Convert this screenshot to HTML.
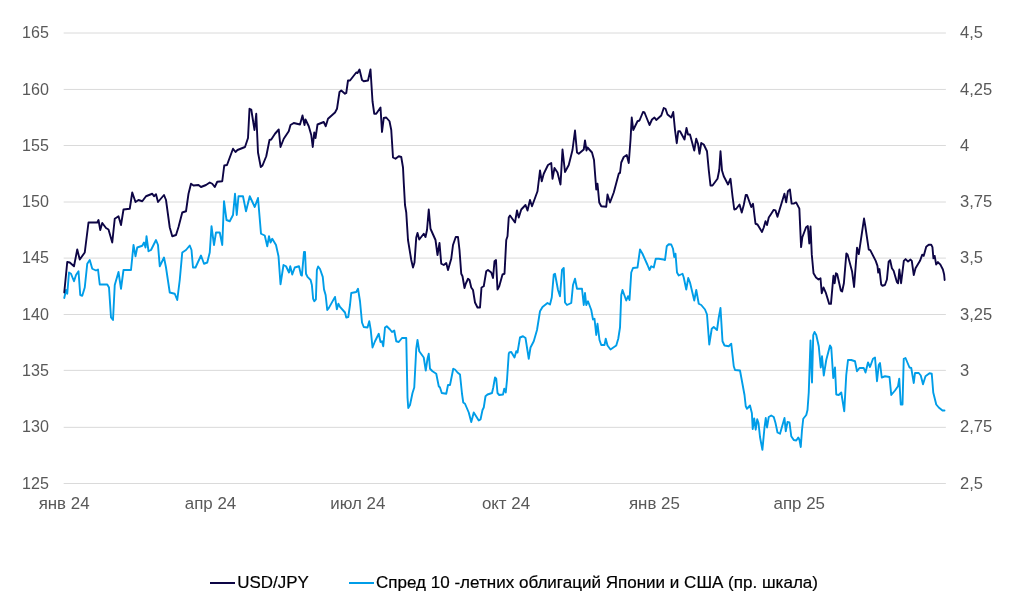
<!DOCTYPE html>
<html lang="ru"><head><meta charset="utf-8"><title>USD/JPY</title>
<style>
html,body{margin:0;padding:0;background:#fff}
body{width:1024px;height:603px;overflow:hidden}
svg{display:block}
text{font-family:"Liberation Sans",Arial,sans-serif}
.ax{font-size:16.5px;fill:#595959}
.lg{font-size:17px;fill:#000}
</style></head><body>
<svg width="1024" height="603" viewBox="0 0 1024 603">
<rect width="1024" height="603" fill="#fff"/>
<g stroke="#cccccc" stroke-width="0.72">
<line x1="63.7" x2="945.9" y1="33.00" y2="33.00"/>
<line x1="63.7" x2="945.9" y1="89.45" y2="89.45"/>
<line x1="63.7" x2="945.9" y1="145.50" y2="145.50"/>
<line x1="63.7" x2="945.9" y1="202.00" y2="202.00"/>
<line x1="63.7" x2="945.9" y1="258.10" y2="258.10"/>
<line x1="63.7" x2="945.9" y1="314.50" y2="314.50"/>
<line x1="63.7" x2="945.9" y1="370.40" y2="370.40"/>
<line x1="63.7" x2="945.9" y1="427.35" y2="427.35"/>
<line x1="63.7" x2="945.9" y1="483.50" y2="483.50"/>
</g>
<g class="ax">
<g transform="translate(48.9 0) scale(0.976 1) translate(-48.9 0)">
<text x="48.9" y="38.30" text-anchor="end">165</text>
<text x="48.9" y="94.59" text-anchor="end">160</text>
<text x="48.9" y="150.88" text-anchor="end">155</text>
<text x="48.9" y="207.16" text-anchor="end">150</text>
<text x="48.9" y="263.45" text-anchor="end">145</text>
<text x="48.9" y="319.74" text-anchor="end">140</text>
<text x="48.9" y="376.03" text-anchor="end">135</text>
<text x="48.9" y="432.31" text-anchor="end">130</text>
<text x="48.9" y="488.60" text-anchor="end">125</text>
</g>
<text x="960.0" y="38.25">4,5</text>
<text x="960.0" y="94.54">4,25</text>
<text x="960.0" y="150.82">4</text>
<text x="960.0" y="207.11">3,75</text>
<text x="960.0" y="263.40">3,5</text>
<text x="960.0" y="319.69">3,25</text>
<text x="960.0" y="375.98">3</text>
<text x="960.0" y="432.26">2,75</text>
<text x="960.0" y="488.55">2,5</text>
<text x="64.1" y="508.8" text-anchor="middle" font-size="16.9">янв 24</text>
<text x="210.5" y="508.8" text-anchor="middle" font-size="16.9">апр 24</text>
<text x="357.75" y="508.8" text-anchor="middle" font-size="16.9">июл 24</text>
<text x="506" y="508.8" text-anchor="middle" font-size="16.9">окт 24</text>
<text x="654.4" y="508.8" text-anchor="middle" font-size="16.9">янв 25</text>
<text x="799.25" y="508.8" text-anchor="middle" font-size="16.9">апр 25</text>
</g>
<path d="M64.25,298 L66,290 L67.25,293.75 L69,272.5 L71,273.75 L74,281.25 L76,275 L78.5,271.25 L80.25,295 L82.25,295.75 L84.75,287.5 L87.25,263.75 L89.75,260 L92.25,268.75 L96,270.5 L98,269.5 L99.75,284.5 L107.25,284.5 L109,287.5 L111,317.5 L113,320 L114.75,285 L118.5,272 L121,288.75 L123.5,270 L131,270 L133.5,245 L135.5,256.25 L137.25,247.5 L142.25,245.75 L144,242.5 L145.5,247.5 L146.5,236.25 L148.5,251.25 L151,250 L156,240 L158,245 L159.75,266.25 L164,257.5 L166,267.5 L169.75,292.5 L174.75,293.75 L177.25,300 L179.75,280 L182.25,252.5 L186,250 L189.75,245.5 L191.5,250 L193,267.5 L195.5,267.5 L201,255.5 L204,263.75 L207.25,262.5 L209.75,252.5 L211.5,226.25 L214,245 L216,232.5 L219.75,232.5 L222.25,245 L224,201.25 L226.5,220 L229.75,221.25 L233,215 L235,193.75 L236.75,215 L238.5,196.25 L243,196.25 L246,211.25 L249.75,196.25 L254.75,207 L258,198 L261,233.75 L264.75,235.5 L267.25,246.25 L269,236.25 L270.5,242.5 L272.25,238.75 L276,245 L278.5,256.25 L280.5,284.25 L283.5,265 L286,266.25 L289,272.5 L290.25,266.25 L292.25,274.5 L294.75,267.5 L299,266.25 L301,275 L301.88,275.62 L304,251.88 L305,251.88 L306,273.75 L307.5,276.88 L310.62,280 L311.88,285 L313.12,298.75 L314.38,301.25 L315.88,299.38 L316.88,270 L318.12,266.5 L320,269 L322.75,276.88 L324,289.38 L325.62,295 L327.25,310 L328.75,308.12 L335,296.88 L336.88,309.38 L338.38,303.75 L340,306.88 L345,312.5 L346.25,317.5 L348.25,317 L350,305 L351.25,293 L356.25,292 L358,288.75 L360,301.25 L362,322.5 L363.75,327 L367.5,327.5 L369.25,321.25 L370.75,330 L372.5,347.5 L375,341.25 L378.75,333.75 L380.5,342 L382,341.25 L383.25,346.25 L385,327.5 L386.75,326.25 L390,329.5 L392,332 L394.25,330.5 L396.25,341.25 L398.75,342 L402,338 L406.25,338 L407.5,397.5 L408.25,408 L410,405 L412.5,393 L414.25,387.5 L416.25,348.75 L417.5,340 L419.25,351.25 L423.75,357.5 L425.75,370.5 L427.5,358.75 L428.75,353.75 L430,368.75 L432.5,371.25 L436.25,373.75 L438.75,386.25 L440,387.5 L441.75,393 L446.25,393.75 L448,385 L450,385 L451.75,376.25 L453.25,368.75 L455,369.5 L457.5,372.5 L460,374.5 L462,393.75 L463.25,402.5 L465,403.75 L468.75,412.5 L471.25,422 L473.75,412.5 L478.75,420.5 L480.5,419.5 L482.5,410 L483.75,407.5 L485.5,396.25 L487.5,394.5 L492,393 L493.25,387.5 L495,377.5 L496.25,378.75 L497.5,393 L499.25,395 L503,394.5 L504.25,388.75 L505.75,392.5 L507,380 L508.75,353.75 L509.25,352.5 L511.25,352 L514.5,357.5 L516.25,351.25 L517.5,352.5 L520,337.5 L523,336.25 L525.5,338 L528.75,358.75 L530.5,347.5 L533.75,341.25 L537,330 L540,311.25 L542.5,307 L547.5,303 L550,304.5 L551.75,297.5 L553.75,274.5 L555,273.75 L558,290 L560,296.25 L562,270 L563.75,268 L565,302.5 L567,305 L571.25,303 L573,285 L575,278.75 L577,288.75 L582,288.75 L583.75,305 L585,293 L586.25,305 L588,301.25 L591.25,310 L593,319.5 L594.5,318.75 L596.25,335 L597.5,323.75 L599.5,340 L601.25,345 L604.5,345 L605.75,338.75 L607.5,345.5 L610.5,349.5 L616.25,345.5 L618.25,338.75 L620,327.5 L621.25,295 L622.5,290 L626.25,300.5 L628,296.25 L629.5,300 L631.25,272.5 L633,268 L637.5,267.5 L640,249.5 L642.5,253.75 L647.5,265 L649.5,270 L651.25,266.25 L653.75,267.5 L653.75,267.5 L655.75,258.75 L658.75,258.75 L663.75,259.5 L665,260 L666.75,246.25 L668.75,244.25 L671.25,244.5 L673,248.75 L674.25,257 L675.5,253.75 L677,272.5 L678.75,275.5 L682.5,273.75 L683.75,277.5 L686.25,289.5 L688.25,278 L690,282.5 L694.25,300.5 L696.25,290 L698.75,303.75 L701.25,305 L705,309.5 L707,314.5 L709.25,344.5 L711.75,328.75 L713.75,327 L717,330 L718.75,317.5 L720.5,308 L722.5,341.25 L724.5,345.5 L728.75,346.25 L731.25,343.75 L733.75,366.25 L735,370 L740,370.5 L744.5,395 L745.75,406.25 L747,408.75 L750,405.5 L751.9,413.3 L752.7,429 L754.2,418.5 L755.7,429.7 L757.2,419.3 L758.5,423 L760,437 L762.4,449.9 L764.5,427.5 L765.75,418 L767,427.5 L768.75,417 L771.25,415.5 L773.75,417 L775.5,423 L777.5,432.5 L780,433.75 L782.5,425 L784.5,418 L785.75,431.25 L787.5,422 L789.5,422.5 L791.25,436.25 L793.75,440 L796.25,440.5 L798.25,437.5 L799.5,440 L800.75,447 L802,430 L803.25,418.75 L806.25,415 L807.5,410 L808.75,392.5 L809.5,370 L810.5,340.5 L812,382.5 L813.25,335 L814.5,332 L816.25,335 L818.75,346.25 L820.75,367.5 L822,356.25 L823.75,375.5 L826.25,360 L830,345.5 L831.25,347.5 L833.25,378 L835,367.5 L836.25,394.5 L838.75,395 L841.25,392.5 L844.25,411.25 L846.25,375 L848,360 L851.25,360 L855,361.25 L857,371.25 L859.5,368 L863.75,368 L865.5,372.5 L868,362.5 L870,367 L873,358.75 L875,357.5 L877,381.25 L878.75,365 L880,363 L881.75,377.5 L885,376.25 L889.5,377 L891.25,395 L895,390.5 L898,386.25 L899.25,378.75 L900.75,404.5 L902.5,404.5 L903.75,358.75 L905.5,358 L909.5,367.5 L911.25,368 L913.75,383 L915,373 L918.75,373 L920.75,375.5 L923,384.25 L925.5,376.25 L929.5,373.25 L931.75,373.75 L933.25,392.5 L936.25,404.5 L938.75,407.5 L942.5,410.5 L944.5,410.5" fill="none" stroke="#009de8" stroke-width="1.9" stroke-linejoin="round" stroke-linecap="round"/>
<path d="M64.25,292.5 L67.25,262 L69.75,262.5 L74,266.25 L77.25,249.5 L79.75,259.5 L84.75,252.5 L88.5,222.5 L97.25,222.5 L98.5,220 L100.25,230 L102.25,223 L106,228 L108.5,229.5 L112.25,242.5 L114.75,218.75 L118.5,216.25 L121,225 L123.5,209.5 L129.75,208.75 L132.25,192.5 L135.5,202 L138.5,200 L142.25,201.25 L146,196.25 L152.25,193.75 L154,196.25 L156,194.25 L158,202 L164,195 L166,200 L169.75,227.5 L172.25,236.25 L176,235 L178.5,227 L182.25,212.5 L186,211.25 L188.5,193.75 L191,183.75 L193.5,185.5 L198.5,185 L201,187 L206,185 L209.75,182.5 L212.25,183.75 L214.75,187 L217.25,181.75 L222.25,181.25 L224.25,165.5 L227,165 L233,148.75 L235.5,152 L237.5,150 L245,147 L248,138 L249.5,108.75 L251.25,109.5 L254.5,130 L256.25,113.75 L258,152.5 L260.75,167 L262.5,165.5 L266.25,156.25 L269.5,140 L271.25,139.5 L275,133.75 L278.75,129.5 L280.5,147 L283.75,138.75 L288.75,131.25 L290.5,125 L293.75,123 L300,124.5 L302.5,115.5 L304.5,125 L305.5,119.5 L308.75,126.25 L311.25,135 L312.75,147 L314.25,132.5 L315.5,138 L317.5,124.5 L323.75,122 L325.75,126.25 L328,118.75 L335,112.5 L337,108.75 L339.5,92 L341.25,90.5 L345,93.75 L346.25,93 L348,80.5 L350,80.5 L356.25,72.5 L357.5,73 L359.5,69.5 L362,80 L363.75,81.25 L368,80.5 L370.5,69.5 L372.5,101.25 L374.25,113.75 L376.25,113.75 L380.5,107.5 L382,132 L383.75,118 L386.25,117.5 L389.5,121.25 L391.25,130 L393,157.5 L395.5,158.75 L398.75,156.25 L401.25,157 L403,167.5 L403.75,182.5 L405,205 L406.25,212.5 L408,240 L411.25,260 L413,267.5 L414.5,262.5 L416.25,237.5 L417.5,233 L419.25,239.5 L423.75,233.75 L425.5,237 L427,230 L428.75,209.5 L430.5,228.75 L435.5,240 L437.5,255 L439.5,243 L441.25,263.75 L443.75,265 L446.25,263 L448,270 L451.25,258.75 L453,245 L455.75,237 L458,237 L459.5,250 L461.25,273.75 L462.5,276.25 L464.5,288 L465.75,283.75 L468,278.75 L469.5,280 L471.25,287.5 L473,290 L475,302.5 L477.5,307.5 L480,307.5 L481.5,287.5 L483.75,286.25 L486.25,271.25 L488,270 L491.25,272.5 L493,278 L494.5,261.25 L496,260 L497.5,289.5 L499.25,286.25 L502.5,274.5 L504.5,273.75 L506.25,240 L507.5,236.25 L507.5,236.25 L508.75,217.5 L510,215.5 L515,222.5 L517,210.5 L518.75,217.5 L521.25,209.5 L525.5,205 L527.5,210.5 L530,200 L532,206.25 L537.5,191.25 L540,170.5 L541.75,181.25 L543.75,173.75 L548,165 L551.25,163 L552.5,178.75 L554.5,168 L557.5,172.5 L560.5,184.5 L562.5,149.5 L565,172 L568.75,165 L572.5,150 L575,130.5 L577,152.5 L578.75,153.75 L583.75,149.5 L585,140.5 L586.5,150.5 L587.5,147.5 L592,152.5 L594,160 L596.25,189.5 L597.5,183.75 L599.25,202.5 L601.25,206.25 L606.25,206.75 L607.5,194.5 L610,202.5 L613.75,192.5 L618.75,173.75 L620,172.5 L620,173 L621.25,162.5 L623.75,157 L626.75,155 L628.75,163 L630.5,140 L631.75,117.5 L633.25,130 L637.5,121.25 L639.5,120.5 L643,112 L644.5,112.5 L649.5,125 L652,119.5 L654.5,117.5 L656.25,120 L661.25,115.5 L663.75,108 L665.5,108.75 L667.5,114.5 L671.25,117.5 L673.25,112 L675,130 L676.75,143.25 L678.25,131.25 L680,131.25 L684.5,139.5 L686.5,128 L688,134.5 L690,134.5 L694.25,150.5 L696.25,138.75 L698,143.75 L699.5,153.75 L701.25,143 L703.75,144.5 L707,151.25 L708.75,170 L710.5,185.5 L712.5,185.5 L717.5,178.75 L719.25,170 L720.5,151.25 L722,170.5 L723.75,176.25 L728,184.5 L730.5,178.75 L732.5,196.25 L734.25,209.5 L736.25,208.75 L739.5,204.5 L741.75,212.5 L743.75,205 L745.75,195 L747,195 L751.25,207 L753,203.75 L755.5,223.75 L757.5,224.5 L762,232 L763.75,227.5 L765.5,221.25 L767,225 L768.75,217.5 L771.25,213.75 L773.73,209.85 L775.47,210.35 L777.46,216.82 L784.43,193.68 L786.17,202.39 L787.91,191.19 L789.9,189.45 L791.64,203.63 L793.63,203.63 L796.12,202.39 L799.35,208.61 L801.09,247.16 L802.34,237.21 L806.07,227.26 L807.81,226.02 L809.3,243.43 L810.55,226.52 L811.79,254.63 L813.53,273.28 L816.02,277.51 L818.51,279.5 L820.5,278.26 L821.74,293.18 L823.48,287.46 L825.97,293.18 L829.2,303.88 L830.95,303.88 L833.43,275.77 L834.68,283.23 L835.92,273.28 L837.16,274.03 L840.9,290.7 L842.14,291.44 L843.88,283.23 L846.37,253.38 L847.61,254.63 L852.09,271.54 L854.08,286.97 L857.06,247.66 L858.81,254.13 L864.03,218.56 L865.27,226.02 L868.76,249.65 L870.25,250.15 L875.72,260.85 L877.46,265.82 L878.21,272.54 L879.45,269.05 L881.19,284.48 L882.44,285.72 L884.93,284.98 L886.92,279.5 L888.66,261.59 L890.15,260.1 L891.89,268.31 L893.63,270.8 L896.87,281.99 L898.11,283.23 L899.35,269.55 L901.09,283.23 L903.83,260.85 L905.57,259.1 L908.06,261.59 L910.55,259.6 L911.79,260.85 L913.78,275.02 L915.52,268.31 L920,260.85 L922.24,254.63 L923.73,255.87 L926.22,246.67 L928.71,244.68 L931.19,244.68 L932.44,247.16 L933.43,258.36 L934.68,255.87 L936.17,264.58 L937.91,262.09 L940.4,264.58 L942.89,269.55 L944.13,274.53 L944.63,280" fill="none" stroke="#0d0545" stroke-width="1.9" stroke-linejoin="round" stroke-linecap="round"/>
<line x1="210" x2="235" y1="583" y2="583" stroke="#0d0545" stroke-width="2"/>
<line x1="349" x2="374" y1="583" y2="583" stroke="#009de8" stroke-width="2"/>
<g class="lg" stroke="#000" stroke-width="0.2">
<text x="237.3" y="588" textLength="71.5" lengthAdjust="spacingAndGlyphs">USD/JPY</text>
<text x="376" y="588" textLength="442" lengthAdjust="spacingAndGlyphs">Спред 10 -летних облигаций Японии и США (пр. шкала)</text>
</g>
</svg>
</body></html>
